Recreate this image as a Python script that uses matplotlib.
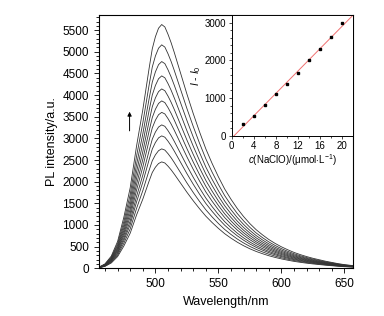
import numpy as np
import matplotlib.pyplot as plt
from matplotlib.ticker import MultipleLocator

plt.rcParams['font.family'] = ['Liberation Sans', 'DejaVu Sans']
plt.rcParams['mathtext.fontset'] = 'custom'
plt.rcParams['mathtext.rm'] = 'Liberation Sans'
plt.rcParams['mathtext.it'] = 'Liberation Sans:italic'

# normalised emission profile
wl = [455, 460, 465, 470, 475, 480, 485, 490, 495, 497.5, 500, 502.5, 505,
      507.5, 510, 512.5, 515, 520, 525, 530, 535, 540, 545, 550, 555, 560,
      565, 570, 575, 580, 585, 590, 595, 600, 605, 610, 615, 620, 625, 630,
      635, 640, 645, 650, 655, 660]
profile = [0.004, 0.018, 0.05, 0.11, 0.21, 0.33, 0.50, 0.65, 0.82, 0.90, 0.95,
           0.985, 1.00, 0.99, 0.96, 0.925, 0.885, 0.80, 0.715, 0.635, 0.56,
           0.49, 0.43, 0.375, 0.325, 0.283, 0.245, 0.212, 0.183, 0.158, 0.137,
           0.118, 0.102, 0.088, 0.076, 0.065, 0.056, 0.048, 0.041, 0.035,
           0.029, 0.024, 0.019, 0.015, 0.012, 0.009]
peaks = [2457, 2758, 3058, 3312, 3601, 3866, 4143, 4444, 4775, 5161, 5630]

# inset: intensity change vs concentration
conc = [2, 4, 6, 8, 10, 12, 14, 16, 18, 20]
dI = [308, 510, 827, 1108, 1363, 1653, 2014, 2287, 2612, 2982]

fig = plt.figure(figsize=(3.84, 3.16), dpi=100)
ax = fig.add_axes([0.257, 0.151, 0.663, 0.8015])
wl_a = np.array(wl)
prof = np.array(profile)
for p in peaks:
    ax.plot(wl_a, p * prof, color='#333333', lw=0.6)

ax.set_xlim(455, 657)
ax.set_ylim(0, 5850)
ax.xaxis.set_major_locator(MultipleLocator(50))
ax.xaxis.set_minor_locator(MultipleLocator(10))
ax.yaxis.set_major_locator(MultipleLocator(500))
ax.yaxis.set_minor_locator(MultipleLocator(100))
ax.tick_params(which='both', direction='out', top=False, right=False,
               labelsize=8.5, width=0.6)
ax.tick_params(which='major', length=3.5)
ax.tick_params(which='minor', length=2)
for s in ax.spines.values():
    s.set_linewidth(0.8)
ax.set_xlabel('Wavelength/nm', fontsize=9, labelpad=4)
ax.set_ylabel('PL intensity/a.u.', fontsize=9, labelpad=3)
ax.annotate('', xy=(479.5, 3680), xytext=(479.5, 3110),
            arrowprops=dict(arrowstyle='-|>', color='k', lw=0.7,
                            mutation_scale=6))

# inset
ins = fig.add_axes([0.603, 0.5706, 0.317, 0.3819])
ins.plot(conc, dI, 's', color='k', ms=2)
k, b = np.polyfit(conc, dI, 1)
xf = np.array([0, 22])
ins.plot(xf, k * xf + b, color='#f07070', lw=0.7, zorder=1)
ins.set_xlim(0, 22)
ins.set_ylim(0, 3200)
ins.xaxis.set_major_locator(MultipleLocator(4))
ins.xaxis.set_minor_locator(MultipleLocator(2))
ins.yaxis.set_major_locator(MultipleLocator(1000))
ins.yaxis.set_minor_locator(MultipleLocator(200))
ins.tick_params(which='both', direction='out', top=False, right=False,
                labelsize=7, width=0.5, pad=1.5)
ins.tick_params(which='major', length=2.5)
ins.tick_params(which='minor', length=1.5)
for s in ins.spines.values():
    s.set_linewidth(0.7)
ins.set_xlabel(r'$c$(NaClO)/($\mathrm{\mu}$mol$\cdot$L$^{-1}$)', fontsize=7,
               labelpad=1)
ins.set_ylabel(r'$I$ - $I_0$', fontsize=7.5, labelpad=1)

fig.savefig('out.png', dpi=100)
